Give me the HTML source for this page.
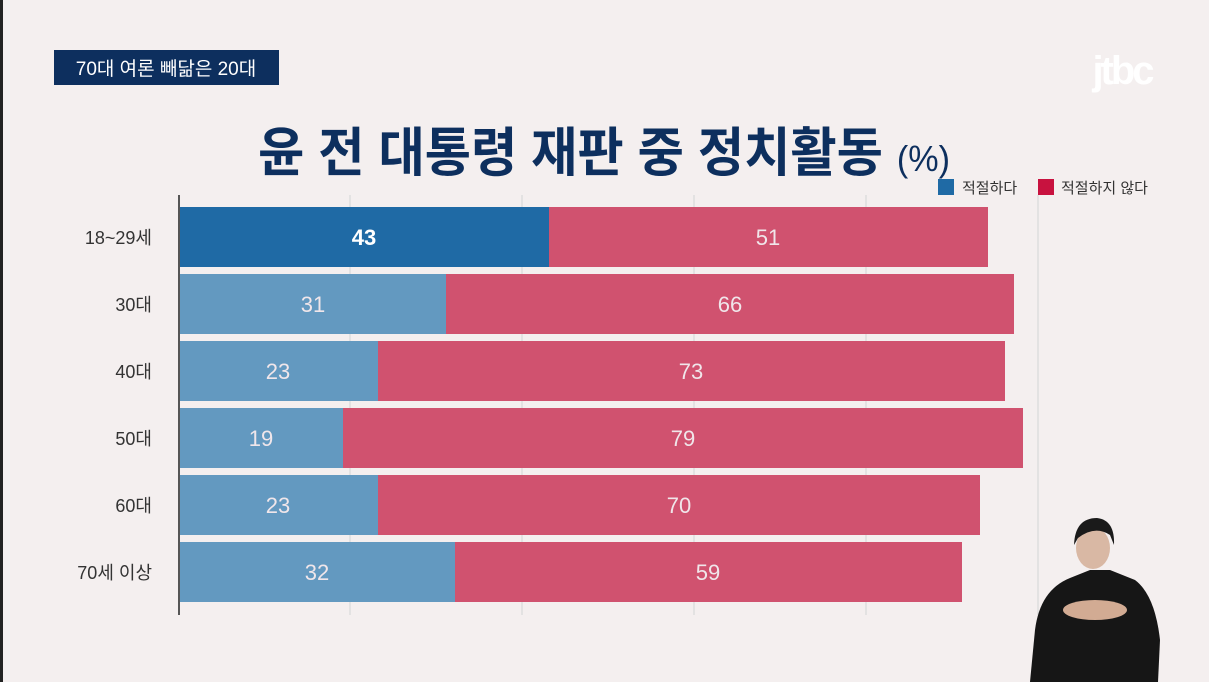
<!DOCTYPE html>
<html><head><meta charset="utf-8"><style>
html,body{margin:0;padding:0;background:#f4efef;}
svg{display:block;}
text{font-family:"Liberation Sans","Noto Sans CJK KR",sans-serif;}
</style></head><body>
<svg width="1209" height="682" viewBox="0 0 1209 682" xmlns="http://www.w3.org/2000/svg">
<rect width="1209" height="682" fill="#f4efef"/>
<rect x="0" y="0" width="3" height="682" fill="#222"/>
<rect x="54" y="50" width="225" height="35" fill="#0d2f5e"/>
<text x="166" y="75" font-size="19" fill="#fff" text-anchor="middle">70대 여론 빼닮은 20대</text>
<text x="1122" y="84" font-size="40" font-weight="bold" fill="#fff" text-anchor="middle" letter-spacing="-3">jtbc</text>
<text x="258" y="171" font-size="53" font-weight="bold" fill="#0d2f5e" textLength="692" lengthAdjust="spacingAndGlyphs">윤 전 대통령 재판 중 정치활동 <tspan font-size="36" font-weight="normal">(%)</tspan></text>
<rect x="938" y="179" width="16" height="16" fill="#1f6aa5"/>
<text x="962" y="193" font-size="15" fill="#333">적절하다</text>
<rect x="1038" y="179" width="16" height="16" fill="#c8123f"/>
<text x="1061" y="193" font-size="15" fill="#333">적절하지 않다</text>
<g stroke="#ddd" stroke-width="1.5">
<line x1="350" y1="195" x2="350" y2="615"/><line x1="522" y1="195" x2="522" y2="615"/>
<line x1="694" y1="195" x2="694" y2="615"/><line x1="866" y1="195" x2="866" y2="615"/>
<line x1="1038" y1="195" x2="1038" y2="615"/>
</g>
<g font-size="22" text-anchor="middle" fill="#f0e6ea">
<rect x="179" y="207" width="370" height="60" fill="#1f6aa5"/><rect x="549" y="207" width="439" height="60" fill="#d0526f"/>
<text x="364" y="245" fill="#fff" font-weight="bold">43</text><text x="768" y="245">51</text>
<rect x="179" y="274" width="267" height="60" fill="#6399c0"/><rect x="446" y="274" width="568" height="60" fill="#d0526f"/>
<text x="313" y="312">31</text><text x="730" y="312">66</text>
<rect x="179" y="341" width="199" height="60" fill="#6399c0"/><rect x="378" y="341" width="627" height="60" fill="#d0526f"/>
<text x="278" y="379">23</text><text x="691" y="379">73</text>
<rect x="179" y="408" width="164" height="60" fill="#6399c0"/><rect x="343" y="408" width="680" height="60" fill="#d0526f"/>
<text x="261" y="446">19</text><text x="683" y="446">79</text>
<rect x="179" y="475" width="199" height="60" fill="#6399c0"/><rect x="378" y="475" width="602" height="60" fill="#d0526f"/>
<text x="278" y="513">23</text><text x="679" y="513">70</text>
<rect x="179" y="542" width="276" height="60" fill="#6399c0"/><rect x="455" y="542" width="507" height="60" fill="#d0526f"/>
<text x="317" y="580">32</text><text x="708" y="580">59</text>
</g>
<line x1="179" y1="195" x2="179" y2="615" stroke="#555" stroke-width="2"/>
<g font-size="18" fill="#333" text-anchor="end">
<text x="152" y="244">18~29세</text><text x="152" y="311">30대</text><text x="152" y="378">40대</text>
<text x="152" y="445">50대</text><text x="152" y="512">60대</text><text x="152" y="579">70세 이상</text>
</g>
<path d="M1030 682 L1035 630 Q1040 590 1070 578 L1090 570 L1110 570 L1135 580 Q1155 595 1160 640 L1158 682 Z" fill="#161616"/>
<ellipse cx="1093" cy="548" rx="17" ry="21" fill="#d9b8a4"/>
<path d="M1074 545 Q1075 518 1097 518 Q1115 520 1114 545 L1110 535 Q1095 525 1078 538 Z" fill="#1a1a1a"/>
<ellipse cx="1095" cy="610" rx="32" ry="10" fill="#d2ab93"/>
</svg>
</body></html>
